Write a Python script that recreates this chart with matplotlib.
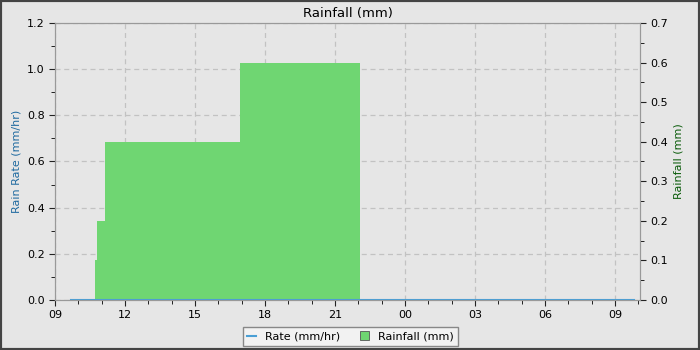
import matplotlib
matplotlib.use("Agg")
import matplotlib.pyplot as plt
from matplotlib.patches import Rectangle, Patch
from matplotlib.lines import Line2D
from matplotlib.ticker import MultipleLocator

# hours since 09:00 on day 1
rain_times = [0.0, 1.71, 1.78, 2.14, 7.93, 13.07]
rain_totals = [0.0, 0.1, 0.2, 0.4, 0.6, 0.6]

rate_times = [0.69, 24.8]
rate_values = [0.0, 0.0]

tick_hours = [0, 3, 6, 9, 12, 15, 18, 21, 24]
tick_labels = ["09", "12", "15", "18", "21", "00", "03", "06", "09"]

bg = "#e6e6e6"
fig = plt.figure(figsize=(7, 3.5), dpi=100, facecolor=bg)
ax = fig.add_axes([55/700, 50/350, 585/700, 277/350])
ax.set_facecolor(bg)
ax2 = ax.twinx()
ax2.patch.set_visible(False)
ax.set_zorder(1)
ax2.set_zorder(2)

ax2.fill_between(rain_times, rain_totals, step="post", color="#6fd672", linewidth=0, zorder=2)
ax2.plot(rate_times, rate_values, color="#4a9fd5", linewidth=1.5, zorder=5,
         transform=ax.transData, clip_on=True)

ax.set_xlim(0, 25.07)
ax.set_ylim(0, 1.2)
ax2.set_ylim(0, 0.7)
ax.set_xticks(tick_hours)
ax.set_xticklabels(tick_labels)
ax.xaxis.set_minor_locator(MultipleLocator(1))
ax.yaxis.set_major_locator(MultipleLocator(0.2))
ax.yaxis.set_minor_locator(MultipleLocator(0.1))
ax2.yaxis.set_major_locator(MultipleLocator(0.1))
ax2.yaxis.set_minor_locator(MultipleLocator(0.05))

ax.grid(True, color="#c2c2c2", linestyle=(0, (4, 3)), linewidth=0.9, zorder=0)

for a in (ax, ax2):
    for s in a.spines.values():
        s.set_color("#999999")
        s.set_zorder(6)
    a.tick_params(labelsize=8, color="#222222", length=4)
    a.tick_params(which="minor", length=3)
ax.set_yticklabels([f"{v:.1f}" for v in ax.get_yticks()])
ax2.set_yticklabels([f"{v:.1f}" for v in ax2.get_yticks()])

ax.set_title("Rainfall (mm)", fontsize=9.5, pad=4)
ax.set_ylabel("Rain Rate (mm/hr)", fontsize=8, color="#1f6aa0")
ax2.set_ylabel("Rainfall (mm)", fontsize=8, color="#0b5c0b")

handles = [Line2D([], [], color="#4a9fd5", linewidth=1.5),
           Patch(facecolor="#6fd672", edgecolor="#555555", linewidth=0.6)]
leg = fig.legend(handles, ["Rate (mm/hr)", "Rainfall (mm)"], loc="center",
                 bbox_to_anchor=(350.5/700, 1 - 336.5/350), ncol=2, fontsize=8,
                 frameon=True, fancybox=False, edgecolor="#888888",
                 facecolor="#f2f2f2", framealpha=1, handlelength=0.8,
                 handleheight=0.8, columnspacing=1.8, borderpad=0.4)

fig.patches.append(Rectangle((0, 0), 1, 1, transform=fig.transFigure,
                             fill=False, edgecolor="#444444", linewidth=3))
fig.savefig("out.png", dpi=100, facecolor=bg)

img = plt.imread("out.png")
px = img[208, 200, :3]
if abs(px[0] - 0x6f/255) > 0.05:
    raise RuntimeError(f"grid over bar: {px}")
